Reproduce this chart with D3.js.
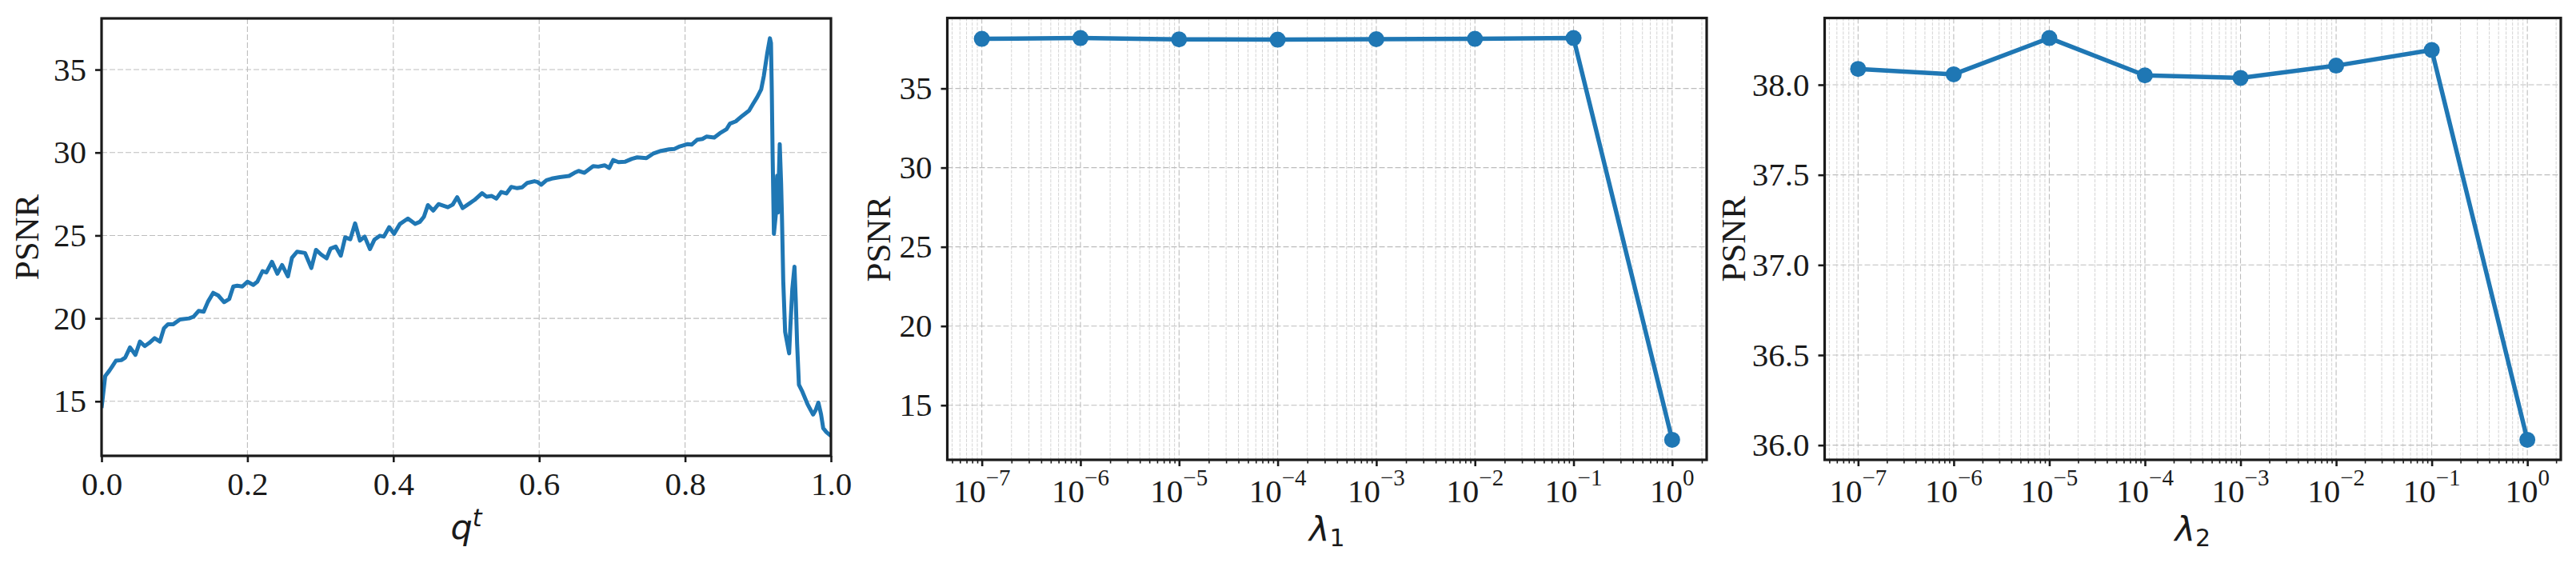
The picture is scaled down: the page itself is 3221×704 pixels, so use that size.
<!DOCTYPE html>
<html><head><meta charset="utf-8">
<script src="https://cdn.jsdelivr.net/npm/d3@7"></script>
<style>body{margin:0;background:#fff}</style>
</head><body>
<svg id="chart" width="3221" height="704" xmlns="http://www.w3.org/2000/svg"></svg>
<script>
// ---------------- DATA ----------------
const qValues = [0,0.005,0.0106,0.0143,0.0197,0.027,0.0325,0.039,0.0464,0.0526,0.0592,0.0654,0.0727,0.080,0.0855,0.091,0.098,0.1075,0.120,0.126,0.133,0.140,0.1458,0.153,0.160,0.168,0.175,0.1806,0.186,0.193,0.200,0.208,0.2135,0.2207,0.226,0.2336,0.241,0.2475,0.2555,0.261,0.268,0.279,0.2876,0.294,0.301,0.3085,0.314,0.321,0.328,0.334,0.341,0.3476,0.3542,0.3607,0.368,0.374,0.3816,0.387,0.3944,0.401,0.409,0.420,0.430,0.4364,0.442,0.4474,0.4547,0.462,0.4748,0.4814,0.4876,0.495,0.502,0.5113,0.5216,0.5277,0.535,0.5413,0.548,0.555,0.5617,0.5698,0.5764,0.5837,0.5935,0.598,0.6027,0.61,0.6173,0.6283,0.641,0.6484,0.654,0.662,0.6678,0.674,0.681,0.6897,0.696,0.7014,0.7087,0.718,0.727,0.7343,0.747,0.756,0.767,0.778,0.7854,0.7928,0.8037,0.809,0.8165,0.8238,0.8293,0.840,0.8476,0.8567,0.8615,0.8695,0.8787,0.8878,0.8933,0.8988,0.9043,0.908,0.9127,0.9163,0.9178,0.9189,0.92,0.9218,0.9243,0.9262,0.9273,0.9298,0.9317,0.9328,0.9346,0.9372,0.9427,0.9444,0.947,0.95,0.9518,0.9536,0.9561,0.9609,0.9682,0.9755,0.979,0.9828,0.9865,0.9894,0.9938,1.0];
const psnrQ = [14.6,16.52,16.84,17.08,17.45,17.48,17.64,18.25,17.80,18.6,18.33,18.52,18.81,18.6,19.4,19.64,19.64,19.93,20.0,20.1,20.45,20.4,21.0,21.54,21.38,20.98,21.17,21.92,21.97,21.92,22.21,22.02,22.21,22.85,22.77,23.41,22.69,23.22,22.53,23.65,24.02,23.94,23.04,24.13,23.85,23.62,24.21,24.33,23.78,24.88,24.77,25.73,24.69,24.93,24.18,24.74,24.98,24.93,25.5,25.1,25.69,26.02,25.70,25.82,26.13,26.83,26.5,26.89,26.7,26.86,27.31,26.65,26.86,27.14,27.55,27.34,27.38,27.22,27.62,27.53,27.93,27.85,27.9,28.17,28.27,28.22,28.06,28.33,28.43,28.52,28.59,28.78,28.89,28.78,28.97,29.18,29.15,29.23,29.07,29.55,29.42,29.45,29.62,29.71,29.66,29.93,30.1,30.19,30.22,30.37,30.51,30.48,30.77,30.82,30.96,30.9,31.16,31.4,31.74,31.88,32.22,32.53,32.94,33.33,33.8,34.62,36.0,36.89,36.6,33.76,29.99,25.09,26.2,28.6,26.38,30.51,28.11,26.2,22.27,19.18,17.89,19.52,21.75,23.12,21.07,18.49,16.0,15.57,14.8,14.2,14.46,14.92,14.2,13.38,13.14,12.91];

const lambdaValues = [1e-7,1e-6,1e-5,1e-4,1e-3,1e-2,1e-1,1];
const psnrLambda1 = [38.13,38.18,38.10,38.08,38.11,38.13,38.18,12.82];
const psnrLambda2 = [38.088,38.058,38.259,38.052,38.038,38.106,38.193,36.03];

const qTicks = [0,0.2,0.4,0.6,0.8,1.0];
const qTickLabels = ["0.0","0.2","0.4","0.6","0.8","1.0"];
const yTicksQ = [15,20,25,30,35];
const yTicksL1 = [15,20,25,30,35];
const yTicksL2 = [36.0,36.5,37.0,37.5,38.0];
const yTickLabelsL2 = ["36.0","36.5","37.0","37.5","38.0"];
const lambdaTicks = [1e-7,1e-6,1e-5,1e-4,1e-3,1e-2,1e-1,1];
const lambdaExponents = ["\u22127","\u22126","\u22125","\u22124","\u22123","\u22122","\u22121","0"];

// ---------------- STYLE / LAYOUT ----------------
const BLUE = "#1f77b4", INK = "#1a1a1a", GRID = "#bdbdbd";
const SERIF = "'Liberation Serif','Times New Roman',serif";
const SANS = "'DejaVu Sans',sans-serif";
const TICK_FS = 41, LABEL_FS = 43;
const panels = [
  {left:127, right:1039, top:23, bottom:570, ylabelX:48},
  {left:1184.5, right:2134, top:22.5, bottom:575, ylabelX:1113},
  {left:2281.5, right:3202, top:22.5, bottom:575, ylabelX:2182}
];
const svg = d3.select("#chart");
svg.append("rect").attr("width",3221).attr("height",704).attr("fill","#fff");

function padExtent(vals){
  const e = d3.extent(vals), s = e[1]-e[0];
  return [e[0]-0.05*s, e[1]+0.05*s];
}

function styleAxis(g){
  g.select(".domain").remove();
  g.selectAll(".tick line").attr("stroke",INK).attr("stroke-width",2.6);
  g.selectAll(".tick text").attr("fill",INK).style("font-family",SERIF).style("font-size",TICK_FS+"px");
}

function drawGrid(g, p, x, y, xVals, yVals, minorX){
  if (minorX) {
    g.append("g").selectAll("line").data(minorX).join("line")
      .attr("x1",d=>x(d)).attr("x2",d=>x(d)).attr("y1",p.top).attr("y2",p.bottom)
      .attr("stroke","#cfcfcf").attr("stroke-width",0.9).attr("stroke-dasharray","4,1.6");
  }
  g.append("g").selectAll("line").data(xVals).join("line")
    .attr("x1",d=>x(d)).attr("x2",d=>x(d)).attr("y1",p.top).attr("y2",p.bottom)
    .attr("stroke",GRID).attr("stroke-width",1.1).attr("stroke-dasharray","7,3");
  g.append("g").selectAll("line").data(yVals).join("line")
    .attr("x1",p.left).attr("x2",p.right).attr("y1",d=>y(d)).attr("y2",d=>y(d))
    .attr("stroke",GRID).attr("stroke-width",1.1).attr("stroke-dasharray","7,3");
}

function drawSpines(g,p){
  g.append("rect").attr("x",p.left).attr("y",p.top).attr("width",p.right-p.left).attr("height",p.bottom-p.top)
    .attr("fill","none").attr("stroke",INK).attr("stroke-width",3.2);
}

function yLabel(g,p){
  g.append("text").attr("transform",`translate(${p.ylabelX},${(p.top+p.bottom)/2}) rotate(-90)`)
    .attr("text-anchor","middle").attr("fill",INK)
    .style("font-family",SERIF).style("font-size",LABEL_FS+"px").text("PSNR");
}

// ---------------- PANEL 1 ----------------
(function(){
  const p = panels[0];
  const g = svg.append("g");
  const x = d3.scaleLinear().domain([0,1]).range([p.left,p.right]);
  const y = d3.scaleLinear().domain(padExtent(psnrQ)).range([p.bottom,p.top]);
  drawGrid(g,p,x,y,qTicks,yTicksQ,null);
  g.append("clipPath").attr("id","clip1").append("rect")
    .attr("x",p.left).attr("y",p.top).attr("width",p.right-p.left).attr("height",p.bottom-p.top);
  const line = d3.line().x((d,i)=>x(qValues[i])).y(d=>y(d));
  g.append("path").datum(psnrQ).attr("d",line).attr("clip-path","url(#clip1)")
    .attr("fill","none").attr("stroke",BLUE).attr("stroke-width",5)
    .attr("stroke-linejoin","round").attr("stroke-linecap","butt");
  drawSpines(g,p);
  const ax = g.append("g").attr("transform",`translate(0,${p.bottom})`)
    .call(d3.axisBottom(x).tickValues(qTicks).tickSize(8).tickPadding(12).tickFormat((d,i)=>qTickLabels[i]));
  styleAxis(ax);
  const ay = g.append("g").attr("transform",`translate(${p.left},0)`)
    .call(d3.axisLeft(y).tickValues(yTicksQ).tickSize(8).tickPadding(11).tickFormat(d3.format("d")));
  styleAxis(ay);
  yLabel(g,p);
  const xl = g.append("text").attr("x",(p.left+p.right)/2).attr("y",674).attr("text-anchor","middle")
    .attr("fill",INK).style("font-family",SANS).style("font-size","43px").style("font-style","italic");
  xl.append("tspan").text("q");
  xl.append("tspan").attr("dy",-16).style("font-size","30px").text("t");
})();

// ---------------- LOG PANELS ----------------
function logPanel(p, vals, yTicks, yFmt, sub){
  const g = svg.append("g");
  const x = d3.scaleLog().domain([Math.pow(10,-7.35), Math.pow(10,0.35)]).range([p.left,p.right]);
  const y = d3.scaleLinear().domain(padExtent(vals)).range([p.bottom,p.top]);
  const dom = x.domain();
  const minor = [];
  for (let k=-8;k<=0;k++) for (let m=2;m<=9;m++){ const v=m*Math.pow(10,k); if(v>=dom[0]&&v<=dom[1]) minor.push(v); }
  drawGrid(g,p,x,y,lambdaTicks,yTicks,minor);
  const line = d3.line().x((d,i)=>x(lambdaValues[i])).y(d=>y(d));
  g.append("path").datum(vals).attr("d",line)
    .attr("fill","none").attr("stroke",BLUE).attr("stroke-width",5.5).attr("stroke-linejoin","round");
  g.append("g").selectAll("circle").data(vals).join("circle")
    .attr("cx",(d,i)=>x(lambdaValues[i])).attr("cy",d=>y(d)).attr("r",10).attr("fill",BLUE);
  drawSpines(g,p);
  const axMin = g.append("g").attr("transform",`translate(0,${p.bottom})`)
    .call(d3.axisBottom(x).tickValues(minor).tickSize(4.5).tickFormat(""));
  axMin.select(".domain").remove();
  axMin.selectAll(".tick line").attr("stroke",INK).attr("stroke-width",1.6);
  const ax = g.append("g").attr("transform",`translate(0,${p.bottom})`)
    .call(d3.axisBottom(x).tickValues(lambdaTicks).tickSize(8).tickFormat(""));
  styleAxis(ax);
  const tl = g.append("g").selectAll("text").data(lambdaTicks).join("text")
    .attr("x",d=>x(d)).attr("y",p.bottom+53).attr("text-anchor","middle").attr("fill",INK)
    .style("font-family",SERIF).style("font-size",TICK_FS+"px");
  tl.append("tspan").text("10");
  tl.append("tspan").attr("dy",-21).style("font-size","29px").text((d,i)=>lambdaExponents[i]);
  const ay = g.append("g").attr("transform",`translate(${p.left},0)`)
    .call(d3.axisLeft(y).tickValues(yTicks).tickSize(8).tickPadding(11).tickFormat(yFmt));
  styleAxis(ay);
  yLabel(g,p);
  const xl = g.append("text").attr("x",(p.left+p.right)/2).attr("y",677).attr("text-anchor","middle")
    .attr("fill",INK).style("font-family",SANS).style("font-size","43px");
  xl.append("tspan").style("font-style","italic").text("\u03bb");
  xl.append("tspan").attr("dy",6).style("font-size","30px").text(sub);
}
logPanel(panels[1], psnrLambda1, yTicksL1, d3.format("d"), "1");
logPanel(panels[2], psnrLambda2, yTicksL2, (d,i)=>yTickLabelsL2[i], "2");
</script>
</body></html>
